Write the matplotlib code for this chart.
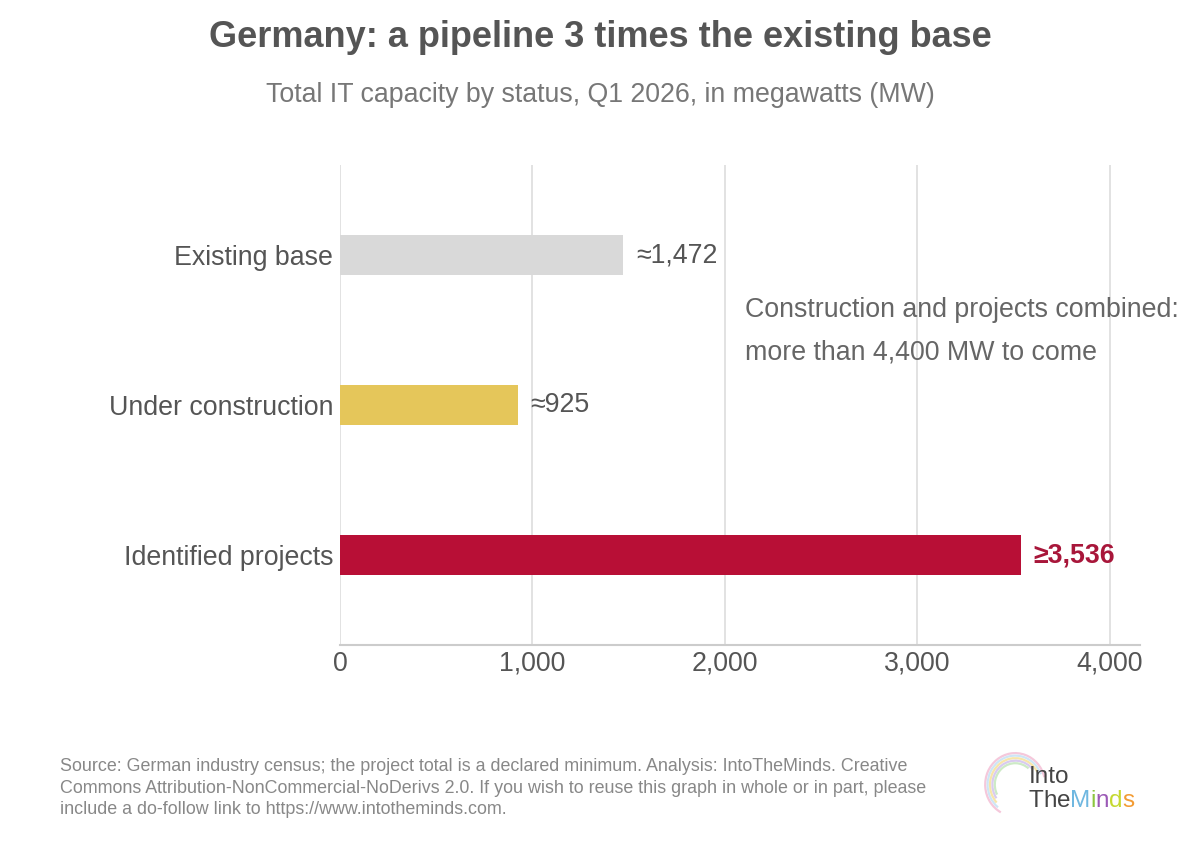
import matplotlib.pyplot as plt
from matplotlib.patches import Arc

plt.rcParams["font.family"] = ["Liberation Sans", "DejaVu Sans"]

categories = ["Existing base", "Under construction", "Identified projects"]
values = [1472, 925, 3536]
labels = ["≈1,472", "≈925", "≥3,536"]
colors = ["#d9d9d9", "#e5c65a", "#b80f36"]
ticks = [0, 1000, 2000, 3000, 4000]
tick_labels = ["0", "1,000", "2,000", "3,000", "4,000"]

text_grey = "#555555"
fs = 19.3

fig = plt.figure(figsize=(12, 8.41), dpi=100)
ax = fig.add_axes([0.2833, 0.233, 0.6667, 0.5705])

ypos = list(range(len(categories)))
ax.barh(ypos, values, height=0.27, color=colors, zorder=3)
ax.set_ylim(2.6, -0.6)
ax.set_xlim(0, 4156)

ax.set_yticks(ypos)
ax.set_yticklabels(categories, fontsize=fs, color=text_grey)
ax.set_xticks(ticks)
ax.set_xticklabels(tick_labels, fontsize=fs, color=text_grey)
ax.tick_params(axis="both", length=0, pad=5)
ax.tick_params(axis="x", pad=4)

ax.grid(axis="x", color="#dddddd", linewidth=1.2, zorder=0)
for side in ["top", "right", "left"]:
    ax.spines[side].set_visible(False)
ax.spines["bottom"].set_color("#cccccc")
ax.spines["bottom"].set_linewidth(1.5)

for i, (v, lab) in enumerate(zip(values, labels)):
    if i == 2:
        ax.text(v + 65, i, lab, va="center", ha="left", fontsize=fs,
                color="#a8163a", fontweight="bold", zorder=4)
    else:
        ax.text(v + 65, i, lab, va="center", ha="left", fontsize=fs,
                color=text_grey, zorder=4)

ax.text(2104, 0.507, "Construction and projects combined:\nmore than 4,400 MW to come",
        ha="left", va="center", fontsize=fs, color="#666666", linespacing=1.83,
        zorder=4)

fig.text(0.5, 0.955, "Germany: a pipeline 3 times the existing base", ha="center",
         va="center", fontsize=26, fontweight="bold", color=text_grey)
fig.text(0.5, 0.887, "Total IT capacity by status, Q1 2026, in megawatts (MW)",
         ha="center", va="center", fontsize=fs, color="#777777")

footer = ("Source: German industry census; the project total is a declared minimum. "
          "Analysis: IntoTheMinds. Creative\n"
          "Commons Attribution-NonCommercial-NoDerivs 2.0. If you wish to reuse this "
          "graph in whole or in part, please\n"
          "include a do-follow link to https://www.intotheminds.com.")
fig.text(0.05, 0.0625, footer, ha="left", va="center", fontsize=12.9,
         color="#888888", linespacing=1.35)

# logo: faint brain swirl + wordmark
pastels = ["#f4c2d7", "#c9e3f5", "#f7e3a1", "#d5c6ee", "#c8e8c0"]
for k, c in enumerate(pastels):
    arc = Arc((0.846, 0.067), 0.05 - k * 0.004, 0.075 - k * 0.006,
              theta1=20 + k * 10, theta2=250 - k * 8, transform=fig.transFigure,
              color=c, lw=1.6, alpha=0.9)
    fig.add_artist(arc)

logo_fs = 17.5
fig.text(0.857, 0.069, "Into", fontsize=logo_fs, color="#444444", ha="left",
         va="baseline")
logo_x = 0.857
for ch, col in [("T", "#444444"), ("h", "#444444"), ("e", "#444444"),
                ("M", "#6fb7e0"), ("i", "#8cc63f"), ("n", "#9b59b6"),
                ("d", "#c5d930"), ("s", "#f39c34")]:
    t = fig.text(logo_x, 0.0404, ch, fontsize=logo_fs, color=col, ha="left",
                 va="baseline")
    fig.canvas.draw()
    bb = t.get_window_extent()
    logo_x += bb.width / fig.bbox.width

fig.savefig("out.png", dpi=100)
